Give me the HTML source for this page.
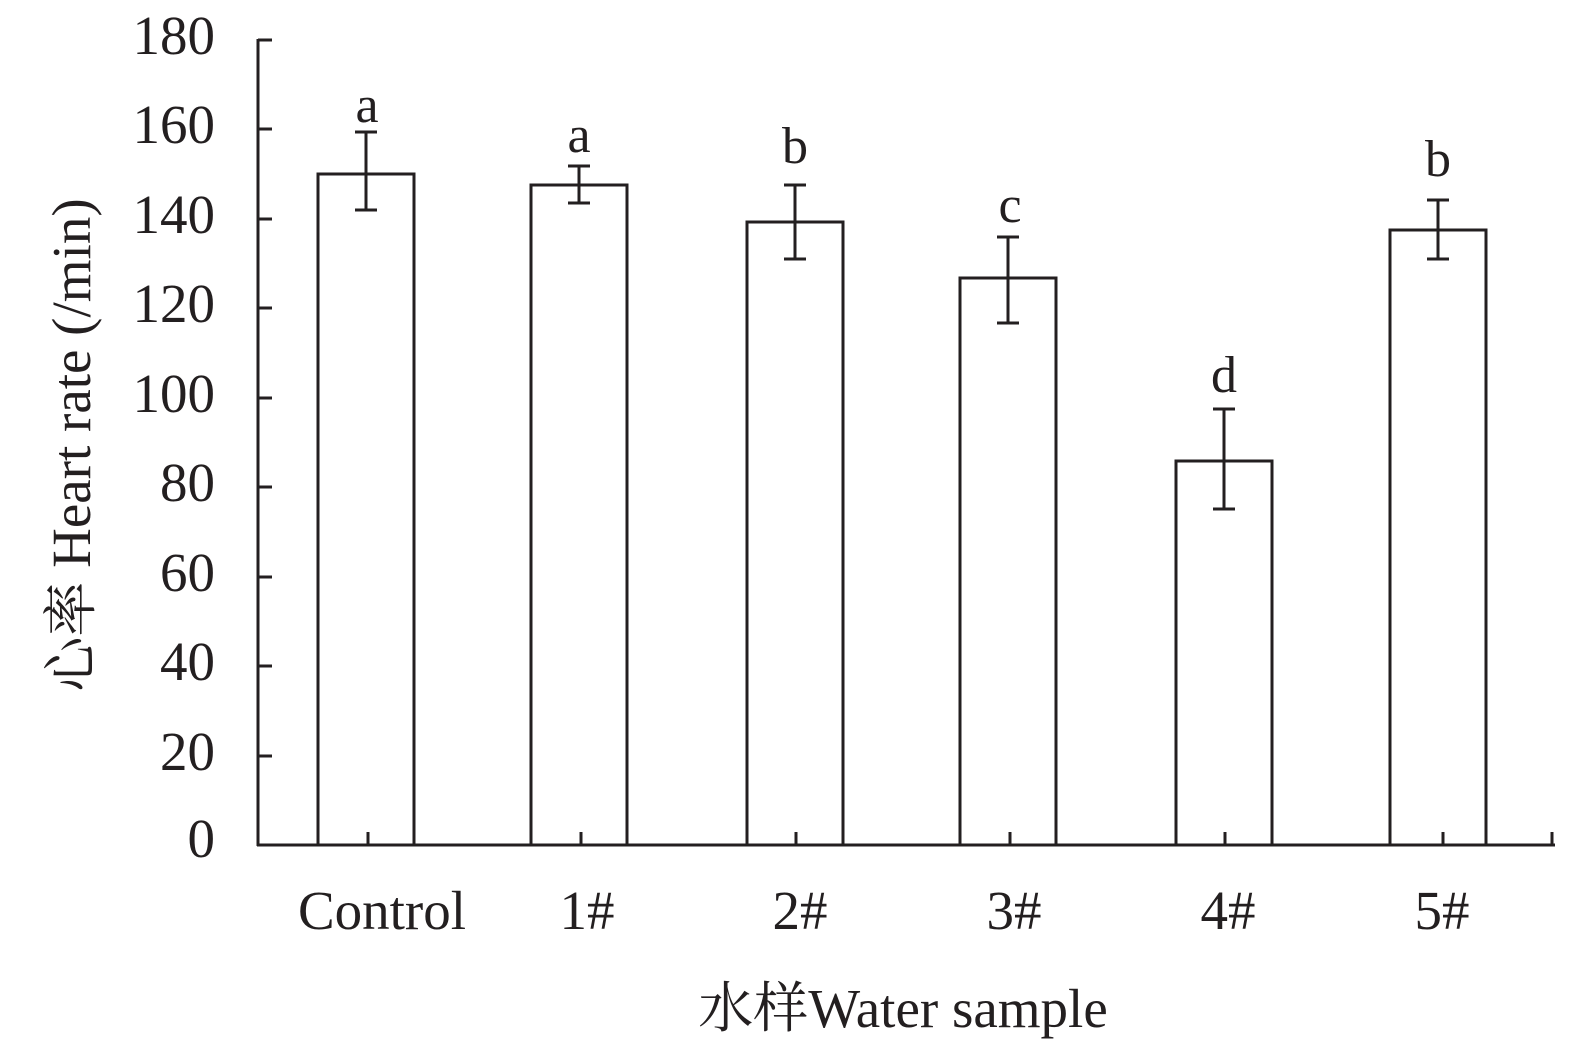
<!DOCTYPE html>
<html><head><meta charset="utf-8"><style>html,body{margin:0;padding:0;background:#fff}svg{display:block}</style></head><body>
<svg width="1575" height="1053" viewBox="0 0 1575 1053" xmlns="http://www.w3.org/2000/svg" font-family="Liberation Serif, Noto Serif CJK SC, serif" fill="#231f20">
<g stroke="#231f20" stroke-width="3" fill="none">
<line x1="258" y1="39" x2="258" y2="846"/>
<line x1="257" y1="845" x2="1555" y2="845"/>
<line x1="258" y1="40" x2="272" y2="40"/><line x1="258" y1="129" x2="272" y2="129"/><line x1="258" y1="219" x2="272" y2="219"/><line x1="258" y1="308" x2="272" y2="308"/><line x1="258" y1="398" x2="272" y2="398"/><line x1="258" y1="487" x2="272" y2="487"/><line x1="258" y1="577" x2="272" y2="577"/><line x1="258" y1="666" x2="272" y2="666"/><line x1="258" y1="756" x2="272" y2="756"/>
<line x1="368" y1="832" x2="368" y2="845"/><line x1="581" y1="832" x2="581" y2="845"/><line x1="796" y1="832" x2="796" y2="845"/><line x1="1010" y1="832" x2="1010" y2="845"/><line x1="1225" y1="832" x2="1225" y2="845"/><line x1="1443" y1="832" x2="1443" y2="845"/><line x1="1552" y1="832" x2="1552" y2="845"/>
<rect x="318" y="174" width="96" height="671"/>
<rect x="531" y="185" width="96" height="660"/>
<rect x="747" y="222" width="96" height="623"/>
<rect x="960" y="278" width="96" height="567"/>
<rect x="1176" y="461" width="96" height="384"/>
<rect x="1390" y="230" width="96" height="615"/>
<path d="M366 132V210M355 132H377M355 210H377"/>
<path d="M579 166V203M568 166H590M568 203H590"/>
<path d="M795 185V259M784 185H806M784 259H806"/>
<path d="M1008 237V323M997 237H1019M997 323H1019"/>
<path d="M1224 409V509M1213 409H1235M1213 509H1235"/>
<path d="M1438 200V259M1427 200H1449M1427 259H1449"/>
</g>
<g font-size="55" text-anchor="end">
<text x="215" y="54">180</text><text x="215" y="143">160</text><text x="215" y="233">140</text><text x="215" y="322">120</text><text x="215" y="412">100</text><text x="215" y="501">80</text><text x="215" y="591">60</text><text x="215" y="680">40</text><text x="215" y="770">20</text><text x="215" y="857">0</text>
</g>
<g font-size="52" text-anchor="middle">
<text x="367" y="122">a</text><text x="579" y="152">a</text><text x="795" y="163">b</text><text x="1010" y="222">c</text><text x="1224" y="392">d</text><text x="1438" y="176">b</text>
</g>
<g font-size="55" text-anchor="middle">
<text x="382" y="929">Control</text><text x="587" y="929">1#</text><text x="800" y="929">2#</text><text x="1014" y="929">3#</text><text x="1228" y="929">4#</text><text x="1442" y="929">5#</text>
<text x="903" y="1027">水样Water sample</text>
<text transform="translate(90,445) rotate(-90)">心率 Heart rate (/min)</text>
</g>
</svg>
</body></html>
